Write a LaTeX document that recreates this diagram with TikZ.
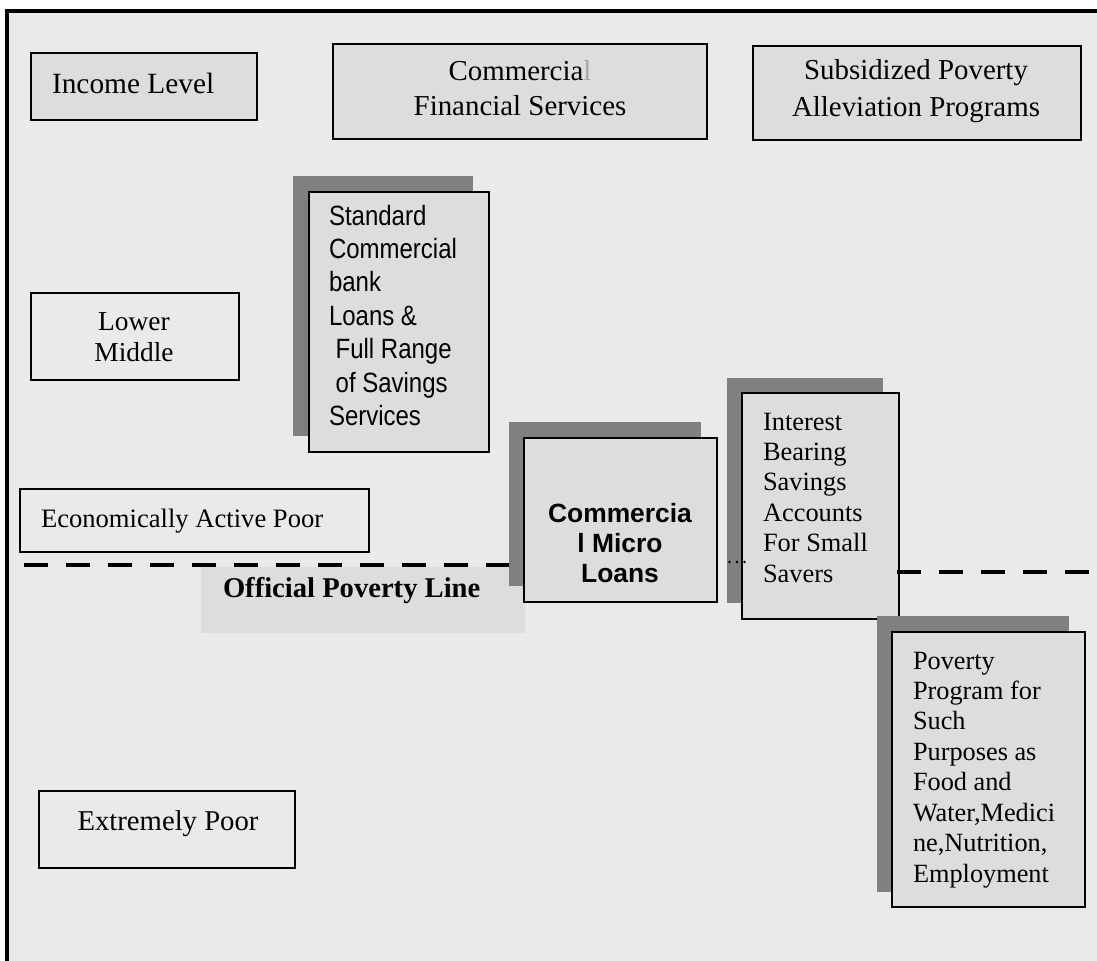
\documentclass[tikz,border=0pt]{standalone}
\usepackage{fontspec}
\setmainfont{Liberation Serif}
\newfontfamily\arialfont{Liberation Sans}
\newfontfamily\arialnarrow[FakeStretch=0.86]{Liberation Sans}
\definecolor{bgc}{HTML}{EAEAEA}
\definecolor{boxc}{HTML}{DDDDDD}
\definecolor{shc}{HTML}{808080}
\newcommand\mylines[2]{\begin{tabular}[t]{@{}#1@{}}#2\end{tabular}}
\begin{document}
\begin{tikzpicture}[x=1bp,y=-1bp,
  every node/.style={inner sep=0pt, outer sep=0pt},
  frame/.style={draw=black, line width=1.5bp, rectangle, anchor=north west},
  filledbox/.style={frame, fill=boxc},
  plainbox/.style={frame, fill=bgc},
  shadowbox/.style={rectangle, fill=shc, anchor=north west},
  barbox/.style={rectangle, fill=boxc, anchor=north west},
  txt/.style={anchor=base west},
  ctxt/.style={anchor=base},
  povline/.style={line width=4.5bp, dash pattern=on 24bp off 18bp}
]
\useasboundingbox (0,0) rectangle (1097,961);
\fill[white] (0,0) rectangle (1097,961);
\fill[bgc] (6.5,11) rectangle (1097,961);
\draw[line width=4bp] (6.5,961) -- (6.5,11) -- (1097,11);

% top row
\node[filledbox, minimum width=226bp, minimum height=67bp] (inc) at (31,53) {};
\node[txt, font={\fontsize{29.5}{36}\selectfont}] (inct) at (52,93) {Income Level};

\node[filledbox, minimum width=374bp, minimum height=95bp] (cfs) at (333,44) {};
\node[ctxt, font={\fontsize{29}{36}\selectfont}] (cfst) at (520,80)
  {\mylines{c}{Commercia{\color{black!35}l}\\Financial Services}};

\node[filledbox, minimum width=328bp, minimum height=94bp] (spa) at (753,46) {};
\node[ctxt, font={\fontsize{29}{38}\selectfont}] (spat) at (916,79)
  {\mylines{c}{Subsidized Poverty\\Alleviation Programs}};

% standard commercial bank
\node[shadowbox, minimum width=180bp, minimum height=260bp] (stdsh) at (293,176) {};
\node[filledbox, minimum width=180bp, minimum height=260bp] (std) at (309,192) {};
\node[txt, font={\arialnarrow\fontsize{28}{33.6}\selectfont}] (stdt) at (329,225)
  {\mylines{l}{Standard\\Commercial\\bank\\Loans \&\\\ Full Range\\\ of Savings\\Services}};

% lower middle
\node[plainbox, minimum width=208bp, minimum height=87bp] (lm) at (31,293) {};
\node[ctxt, font={\fontsize{27.5}{32}\selectfont}] (lmt) at (134,330)
  {\mylines{c}{Lower\\Middle}};

% economically active poor
\node[plainbox, minimum width=349bp, minimum height=63bp] (eap) at (20,489) {};
\node[txt, font={\fontsize{26.7}{32}\selectfont}] (eapt) at (41,527) {Economically Active Poor};

% official poverty line
\node[barbox, minimum width=324bp, minimum height=66bp] (opl) at (201,567) {};
\node[txt, font={\bfseries\fontsize{28.7}{34}\selectfont}] (oplt) at (223,597) {Official Poverty Line};
\coordinate (lineL) at (24,565);
\coordinate (lineLend) at (512,565);
\draw[povline] (lineL) -- (lineLend);

% commercial micro loans
\node[shadowbox, minimum width=192bp, minimum height=164bp] (micsh) at (509,422) {};
\node[filledbox, minimum width=193bp, minimum height=164bp] (mic) at (524,438) {};
\node[ctxt, font={\arialfont\bfseries\fontsize{26.5}{30.5}\selectfont}] (mict) at (620,522)
  {\mylines{c}{Commercia\\l Micro\\Loans}};

% interest bearing
\node[shadowbox, minimum width=156bp, minimum height=225bp] (intsh) at (727,378) {};
\node[filledbox, minimum width=157bp, minimum height=226bp] (int) at (742,393) {};
\node[txt, font={\fontsize{26.5}{30.6}\selectfont}] (intt) at (763,430)
  {\mylines{l}{Interest\\Bearing\\Savings\\Accounts\\For Small\\Savers}};
\foreach \xx in {729.5,737,744.5} \fill (\xx,562) circle (1.3bp);
\coordinate (lineR) at (897,572);
\coordinate (lineRend) at (1097,572);
\draw[povline] (lineR) -- (lineRend);

% poverty program
\node[shadowbox, minimum width=192bp, minimum height=276bp] (povsh) at (877,616) {};
\node[filledbox, minimum width=193bp, minimum height=275bp] (pov) at (892,632) {};
\node[txt, font={\fontsize{26.4}{30.6}\selectfont}] (povt) at (913,669)
  {\mylines{l}{Poverty\\Program for\\Such\\Purposes as\\Food and\\Water,Medici\\ne,Nutrition,\\Employment}};

% extremely poor
\node[plainbox, minimum width=256bp, minimum height=77bp] (ep) at (39,791) {};
\node[ctxt, font={\fontsize{28.8}{34}\selectfont}] (ept) at (168,830) {Extremely Poor};
\end{tikzpicture}
\end{document}
